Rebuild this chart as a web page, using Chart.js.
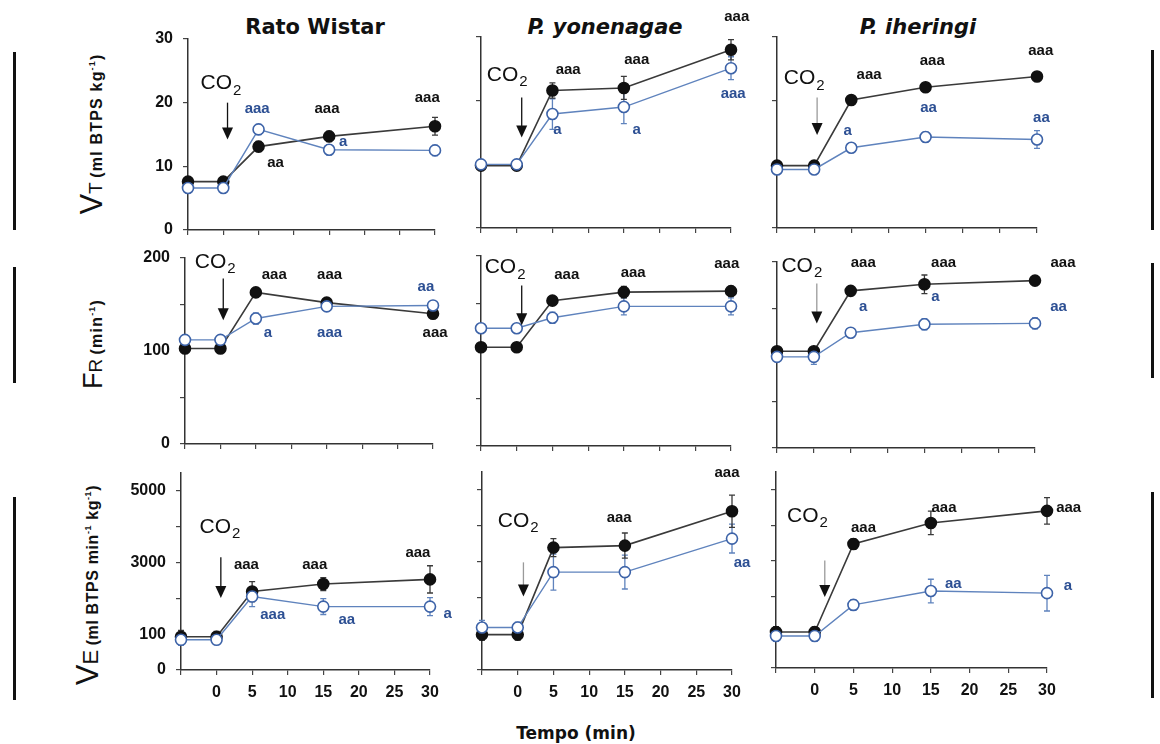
<!DOCTYPE html>
<html>
<head>
<meta charset="utf-8">
<script src="https://cdn.jsdelivr.net/npm/chart.js@4.4.0/dist/chart.umd.min.js"></script>
<style>
  body { margin: 0; background: #fff; width: 1160px; height: 744px; position: relative; overflow: hidden;
         font-family: "Liberation Sans", Arial, sans-serif; color: #111; }
  canvas { position: absolute; }
  .titulo { position: absolute; font-family: "DejaVu Sans", sans-serif; font-weight: bold; font-size: 21px;
            transform: translate(-50%, -50%); white-space: nowrap; }
  .eixoY { position: absolute; transform: translate(-50%, -50%) rotate(-90deg); white-space: nowrap; line-height: 1; }
  .eixoY .g { font-size: 31px; }
  .eixoY .m { font-size: 19px; }
  .eixoY .u { font-size: 16px; font-weight: bold; letter-spacing: 1.2px; }
  .eixoY sup { font-size: 9px; }
  .barra { position: absolute; background: #111; width: 3px; }
</style>
</head>
<body>

<div class="titulo" style="left:315px; top:27px;">Rato Wistar</div>
<div class="titulo" style="left:605px; top:27px; font-style:italic;">P. yonenagae</div>
<div class="titulo" style="left:918px; top:27px; font-style:italic;">P. iheringi</div>
<div class="titulo" style="left:576px; top:733px; font-size:17px;">Tempo (min)</div>

<div class="eixoY" style="left:91px; top:134px;"><span class="g">V</span><span class="m">T</span> <span class="u">(ml BTPS kg<sup>-1</sup>)</span></div>
<div class="eixoY" style="left:93px; top:344px;"><span class="g" style="font-size:27px">F</span><span class="m">R</span> <span class="u">(min<sup>-1</sup>)</span></div>
<div class="eixoY" style="left:87px; top:585px;"><span class="g">V</span><span class="g" style="font-size:22px">E</span> <span class="u" style="letter-spacing:0.6px">(ml BTPS min<sup>-1</sup> kg<sup>-1</sup>)</span></div>

<div class="barra" style="left:13px; top:52px; height:178px;"></div>
<div class="barra" style="left:13px; top:267px; height:116px;"></div>
<div class="barra" style="left:13px; top:497px; height:203px;"></div>
<div class="barra" style="left:1151px; top:50px; height:180px;"></div>
<div class="barra" style="left:1151px; top:263px; height:115px;"></div>
<div class="barra" style="left:1151px; top:492px; height:206px;"></div>

<script>
// Tempos de coleta (min) e eixos
const tempos = [-5, 0, 5, 15, 30];
const ticksX = [-5, 0, 5, 10, 15, 20, 25, 30];
const rotulosX = ['', '0', '5', '10', '15', '20', '25', '30'];

const ticksVT = [0, 10, 20, 30];
const rotulosVT = ['0', '10', '20', '30'];
const ticksFR = [0, 50, 100, 150, 200];
const rotulosFR = ['0', '', '100', '', '200'];
const ticksVE = [0, 1000, 2000, 3000, 4000, 5000];
const rotulosVE = ['0', '100', '', '3000', '', '5000'];

// Volume corrente (VT)
const vtWistarPreto = [7.6, 7.6, 13.1, 14.7, 16.3];
const vtWistarPretoEP = [0.5, 0.4, 0.8, 0.8, 1.4];
const vtWistarAzul = [6.6, 6.6, 15.8, 12.6, 12.5];
const vtWistarAzulEP = [0.4, 0.4, 0.8, 0.8, 0.8];
const vtYonPreto = [9.8, 9.8, 21.6, 22.0, 28.0];
const vtYonPretoEP = [0.6, 0.6, 1.2, 1.8, 1.6];
const vtYonAzul = [10.0, 10.0, 17.9, 19.0, 25.1];
const vtYonAzulEP = [0.5, 0.5, 2.4, 2.6, 1.8];
const vtIherPreto = [9.8, 9.8, 20.1, 22.1, 23.8];
const vtIherPretoEP = [0.4, 0.4, 0.5, 0.5, 0.5];
const vtIherAzul = [9.2, 9.2, 12.6, 14.3, 13.9];
const vtIherAzulEP = [0.4, 0.4, 0.5, 0.8, 1.4];

// Frequência respiratória (FR)
const frWistarPreto = [102.7, 102.7, 163, 152, 140];
const frWistarPretoEP = [3, 3, 5, 4, 4];
const frWistarAzul = [112, 112, 135, 148, 149];
const frWistarAzulEP = [3, 3, 6, 4, 4];
const frYonPreto = [104, 104, 153, 162, 163];
const frYonPretoEP = [3, 3, 4, 6, 5];
const frYonAzul = [124, 124, 135, 147, 147];
const frYonAzulEP = [4, 4, 6, 9, 9];
const frIherPreto = [104, 104, 169, 176, 180];
const frIherPretoEP = [3, 4, 3, 10, 3];
const frIherAzul = [98, 98, 124, 133, 134];
const frIherAzulEP = [3, 8, 4, 6, 6];

// Ventilação (VE)
const veWistarPreto = [927, 927, 2190, 2400, 2530];
const veWistarPretoEP = [180, 150, 280, 180, 380];
const veWistarAzul = [843, 843, 2050, 1770, 1770];
const veWistarAzulEP = [150, 120, 280, 220, 250];
const veYonPreto = [983, 983, 3400, 3455, 4410];
const veYonPretoEP = [150, 150, 250, 350, 450];
const veYonAzul = [1180, 1180, 2720, 2720, 3650];
const veYonAzulEP = [200, 150, 500, 470, 400];
const veIherPreto = [1010, 1010, 3480, 4070, 4410];
const veIherPretoEP = [150, 150, 150, 330, 370];
const veIherAzul = [900, 900, 1770, 2160, 2100];
const veIherAzulEP = [150, 150, 150, 330, 500];

// Cores
const cores = {
  preto: '#111111',
  linhaPreta: '#3a3a3a',
  azul: '#2c4f93',
  linhaAzul: '#5f83bd',
  eixo: '#333333'
};

// Escalas Y por linha da figura
const escalasY = [
  { max: 30, ticks: ticksVT, rotulos: rotulosVT },
  { max: 200, ticks: ticksFR, rotulos: rotulosFR },
  { max: 5500, ticks: ticksVE, rotulos: rotulosVE }
];

// Anotações (significância, CO2 e seta) em unidades dos eixos
const paineis = [
  { linha: 0, col: 0, caixa: [188, 435, 39, 230],
    preto: vtWistarPreto, ep: vtWistarPretoEP, azul: vtWistarAzul, ea: vtWistarAzulEP,
    co2: [-0.4, 23], seta: [0.6, 20, 14.2, false],
    notas: [[4.8, 19, 'aaa', 'a'], [14.7, 19, 'aaa', 'p'], [7.4, 10.6, 'aa', 'p'], [17, 13.9, 'a', 'a'], [28.9, 20.8, 'aaa', 'p']] },
  { linha: 0, col: 1, caixa: [481, 731, 37, 228],
    preto: vtYonPreto, ep: vtYonPretoEP, azul: vtYonAzul, ea: vtYonAzulEP,
    co2: [-1.4, 24], seta: [0.7, 20.5, 14.2, false],
    notas: [[7.2, 24.8, 'aaa', 'p'], [16.8, 26.4, 'aaa', 'p'], [30.8, 33.2, 'aaa', 'p'], [5.7, 15.4, 'a', 'a'], [16.8, 15.4, 'a', 'a'], [30.3, 21, 'aaa', 'a']] },
  { linha: 0, col: 2, caixa: [777, 1037, 37, 228],
    preto: vtIherPreto, ep: vtIherPretoEP, azul: vtIherAzul, ea: vtIherAzulEP,
    co2: [-1.4, 23.5], seta: [0.4, 20.5, 14.6, true],
    notas: [[7.4, 24, 'aaa', 'p'], [15.9, 26.2, 'aaa', 'p'], [30.5, 27.8, 'aaa', 'p'], [4.5, 15.2, 'a', 'a'], [15.4, 18.8, 'aa', 'a'], [30.6, 17.3, 'aa', 'a']] },

  { linha: 1, col: 0, caixa: [185, 433, 258, 444],
    preto: frWistarPreto, ep: frWistarPretoEP, azul: frWistarAzul, ea: frWistarAzulEP,
    co2: [-0.8, 196], seta: [0.4, 178, 133, false],
    notas: [[7.6, 182, 'aaa', 'p'], [15.4, 182, 'aaa', 'p'], [30.3, 119, 'aaa', 'p'], [6.7, 120, 'a', 'a'], [15.4, 120, 'aaa', 'a'], [29, 169, 'aa', 'a']] },
  { linha: 1, col: 1, caixa: [481, 731, 256, 446],
    preto: frYonPreto, ep: frYonPretoEP, azul: frYonAzul, ea: frYonAzulEP,
    co2: [-1.7, 188], seta: [0.7, 169, 127, false],
    notas: [[7, 180, 'aaa', 'p'], [16.3, 182, 'aaa', 'p'], [29.4, 192, 'aaa', 'p']] },
  { linha: 1, col: 2, caixa: [777, 1035, 262, 448],
    preto: frIherPreto, ep: frIherPretoEP, azul: frIherAzul, ea: frIherAzulEP,
    co2: [-1.7, 196], seta: [0.4, 177, 134, true],
    notas: [[6.7, 199, 'aaa', 'p'], [17.6, 199, 'aaa', 'p'], [33.8, 199, 'aaa', 'p'], [6.7, 152, 'a', 'a'], [16.5, 163, 'a', 'a'], [33.2, 152, 'aa', 'a']] },

  { linha: 2, col: 0, caixa: [181, 430, 473, 670],
    preto: veWistarPreto, ep: veWistarPretoEP, azul: veWistarAzul, ea: veWistarAzulEP,
    co2: [0.4, 3990], seta: [0.6, 3150, 2010, false],
    notas: [[4.2, 2930, 'aaa', 'p'], [13.8, 2930, 'aaa', 'p'], [28.3, 3260, 'aaa', 'p'], [7.9, 1530, 'aaa', 'a'], [18.3, 1400, 'aa', 'a'], [32.5, 1560, 'a', 'a']] },
  { linha: 2, col: 1, caixa: [482, 732, 472, 670],
    preto: veYonPreto, ep: veYonPretoEP, azul: veYonAzul, ea: veYonAzulEP,
    co2: [0, 4130], seta: [0.8, 2990, 2040, true],
    notas: [[14.2, 4240, 'aaa', 'p'], [29.3, 5470, 'aaa', 'p'], [31.4, 2990, 'aa', 'a']] },
  { linha: 2, col: 2, caixa: [776, 1047, 472, 668],
    preto: veIherPreto, ep: veIherPretoEP, azul: veIherAzul, ea: veIherAzulEP,
    co2: [-1, 4260], seta: [1.3, 3020, 1990, true],
    notas: [[6.3, 3920, 'aaa', 'p'], [16.7, 4480, 'aaa', 'p'], [32.8, 4480, 'aaa', 'p'], [17.9, 2350, 'aa', 'a'], [32.7, 2300, 'a', 'a']] }
];

// Plugin: barras de erro, textos de significância, CO2 e seta
const pluginExtras = {
  id: 'extras',
  beforeDatasetsDraw(chart) {
    const { ctx, scales: { x, y } } = chart;
    chart.data.datasets.forEach(ds => {
      if (!ds.erros) return;
      ctx.save();
      ctx.strokeStyle = ds.borderColor;
      ctx.lineWidth = 1.3;
      ds.data.forEach((p, j) => {
        const e = ds.erros[j];
        const px = x.getPixelForValue(p.x);
        const ya = y.getPixelForValue(p.y + e);
        const yb = y.getPixelForValue(p.y - e);
        ctx.beginPath();
        ctx.moveTo(px, ya); ctx.lineTo(px, yb);
        ctx.moveTo(px - 3, ya); ctx.lineTo(px + 3, ya);
        ctx.moveTo(px - 3, yb); ctx.lineTo(px + 3, yb);
        ctx.stroke();
      });
      ctx.restore();
    });
  },
  afterDatasetsDraw(chart, args, opts) {
    const { ctx, scales: { x, y } } = chart;
    ctx.save();
    ctx.textBaseline = 'middle';

    // significância
    ctx.textAlign = 'center';
    ctx.font = 'bold 15px "Liberation Sans", Arial, sans-serif';
    opts.notas.forEach(n => {
      ctx.fillStyle = n[3] === 'a' ? cores.azul : cores.preto;
      ctx.fillText(n[2], x.getPixelForValue(n[0]), y.getPixelForValue(n[1]));
    });

    // CO2
    const cx = x.getPixelForValue(opts.co2[0]);
    const cy = y.getPixelForValue(opts.co2[1]);
    ctx.fillStyle = cores.preto;
    ctx.textAlign = 'left';
    ctx.font = '21px "Liberation Sans", Arial, sans-serif';
    const wCO = ctx.measureText('CO').width;
    ctx.font = '15px "Liberation Sans", Arial, sans-serif';
    const w2 = ctx.measureText('2').width;
    const inicio = cx - (wCO + w2) / 2;
    ctx.font = '21px "Liberation Sans", Arial, sans-serif';
    ctx.fillText('CO', inicio, cy);
    ctx.font = '15px "Liberation Sans", Arial, sans-serif';
    ctx.fillText('2', inicio + wCO + 1, cy + 7);

    // seta
    const [sx, s1, s2, fraca] = opts.seta;
    const px = x.getPixelForValue(sx);
    const py1 = y.getPixelForValue(s1);
    const py2 = y.getPixelForValue(s2);
    ctx.strokeStyle = fraca ? '#9a9a9a' : cores.preto;
    ctx.lineWidth = 1.3;
    ctx.beginPath();
    ctx.moveTo(px, py1); ctx.lineTo(px, py2 - 10);
    ctx.stroke();
    ctx.fillStyle = cores.preto;
    ctx.beginPath();
    ctx.moveTo(px - 5.5, py2 - 12);
    ctx.lineTo(px + 5.5, py2 - 12);
    ctx.lineTo(px, py2);
    ctx.closePath();
    ctx.fill();
    ctx.restore();
  }
};

const fonteTicks = { family: '"Liberation Sans", Arial, sans-serif', size: 16, weight: 'bold' };
const margem = { l: 80, t: 40, r: 50, b: 40 };

function criarGrafico(p) {
  const [x0, x1, yT, yB] = p.caixa;
  const esc = escalasY[p.linha];
  const w = x1 - x0 + margem.l + margem.r;
  const h = yB - yT + margem.t + margem.b;
  const cv = document.createElement('canvas');
  cv.width = w;
  cv.height = h;
  cv.style.width = w + 'px';
  cv.style.height = h + 'px';
  cv.style.left = (x0 - margem.l) + 'px';
  cv.style.top = (yT - margem.t) + 'px';
  document.body.appendChild(cv);

  const gradeBase = { drawOnChartArea: false, drawTicks: true, tickLength: 5, color: '#444', lineWidth: 1.2 };
  const bordaBase = { display: true, color: cores.eixo, width: 1.5 };

  new Chart(cv.getContext('2d'), {
    type: 'line',
    data: {
      datasets: [
        {
          data: tempos.map((t, i) => ({ x: t, y: p.azul[i] })),
          erros: p.ea,
          borderColor: cores.linhaAzul,
          borderWidth: 1.4,
          pointRadius: 5.5,
          pointBorderWidth: 1.6,
          pointBackgroundColor: '#ffffff',
          pointBorderColor: '#3d63a8',
          tension: 0,
          clip: false
        },
        {
          data: tempos.map((t, i) => ({ x: t, y: p.preto[i] })),
          erros: p.ep,
          borderColor: cores.linhaPreta,
          borderWidth: 1.6,
          pointRadius: 5.5,
          pointBackgroundColor: cores.preto,
          pointBorderColor: cores.preto,
          tension: 0,
          clip: false
        }
      ]
    },
    options: {
      responsive: false,
      animation: false,
      devicePixelRatio: 1,
      layout: { padding: { left: 0, top: margem.t, right: margem.r, bottom: 0 } },
      plugins: {
        legend: { display: false },
        tooltip: { enabled: false },
        extras: { notas: p.notas, co2: p.co2, seta: p.seta }
      },
      scales: {
        x: {
          type: 'linear',
          min: -5,
          max: 30,
          afterBuildTicks: s => { s.ticks = ticksX.map(v => ({ value: v })); },
          afterFit: s => { s.height = margem.b; },
          ticks: {
            autoSkip: false,
            maxRotation: 0,
            padding: 8,
            color: '#111',
            font: fonteTicks,
            callback: (v, i) => p.linha === 2 ? rotulosX[i] : ''
          },
          grid: gradeBase,
          border: bordaBase
        },
        y: {
          min: 0,
          max: esc.max,
          afterBuildTicks: s => { s.ticks = esc.ticks.map(v => ({ value: v })); },
          afterFit: s => { s.width = margem.l; },
          ticks: {
            autoSkip: false,
            padding: 10,
            color: '#111',
            font: fonteTicks,
            callback: (v, i) => p.col === 0 ? esc.rotulos[i] : ''
          },
          grid: gradeBase,
          border: bordaBase
        }
      }
    },
    plugins: [pluginExtras]
  });
}

paineis.forEach(criarGrafico);
</script>
</body>
</html>
